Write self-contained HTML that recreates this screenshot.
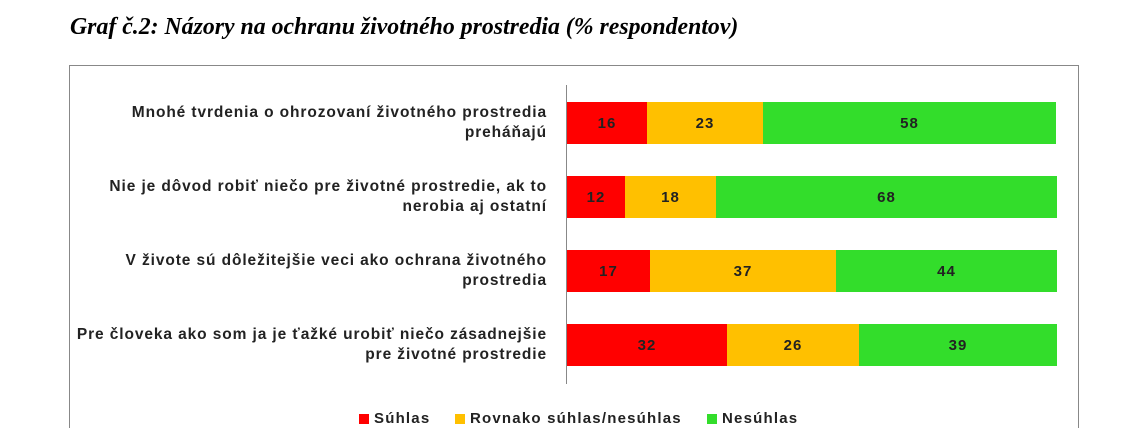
<!DOCTYPE html>
<html><head><meta charset="utf-8"><style>
html,body{margin:0;width:1128px;height:428px;background:#fff;overflow:hidden;position:relative;font-family:"Liberation Sans",sans-serif}
.t{position:absolute;left:70px;top:14px;font:italic bold 23.8px "Liberation Serif",serif;color:#000;white-space:nowrap}
.box{position:absolute;left:69px;top:65px;width:1010px;height:380px;border:1px solid #888;box-sizing:border-box}
.ax{position:absolute;left:566px;top:85px;width:1px;height:299px;background:#888}
.lab{position:absolute;left:40px;width:507px;text-align:right;font-weight:bold;font-size:15.5px;letter-spacing:0.9px;line-height:20px;color:#222;white-space:nowrap}
.bar{position:absolute;height:42px;display:flex}
.bar div{height:100%;display:flex;align-items:center;justify-content:center;font-weight:bold;font-size:15px;letter-spacing:1px;color:#222}
.r{background:#ff0000}.y{background:#ffc000}.g{background:#33dd2b}
.leg{position:absolute;top:410px;font-weight:bold;font-size:15px;letter-spacing:1.2px;color:#222;display:flex;align-items:center;white-space:nowrap}
.leg span{display:inline-block;width:10px;height:10px;margin-right:5px}
</style></head><body>
<div class="t">Graf č.2: Názory na ochranu životného prostredia (% respondentov)</div>
<div class="box"></div>
<div class="ax"></div>
<div class="lab" style="top:103px">Mnohé tvrdenia o ohrozovaní životného prostredia<br>preháňajú</div>
<div class="lab" style="top:177px">Nie je dôvod robiť niečo pre životné prostredie, ak to<br>nerobia aj ostatní</div>
<div class="lab" style="top:251px">V živote sú dôležitejšie veci ako ochrana životného<br>prostredia</div>
<div class="lab" style="top:325px">Pre človeka ako som ja je ťažké urobiť niečo zásadnejšie<br>pre životné prostredie</div>
<div class="bar" style="left:567px;top:102px"><div class="r" style="width:80px">16</div><div class="y" style="width:116px">23</div><div class="g" style="width:293px">58</div></div>
<div class="bar" style="left:567px;top:176px"><div class="r" style="width:58px">12</div><div class="y" style="width:91px">18</div><div class="g" style="width:341px">68</div></div>
<div class="bar" style="left:567px;top:250px"><div class="r" style="width:83px">17</div><div class="y" style="width:186px">37</div><div class="g" style="width:221px">44</div></div>
<div class="bar" style="left:567px;top:324px"><div class="r" style="width:160px">32</div><div class="y" style="width:132px">26</div><div class="g" style="width:198px">39</div></div>
<div class="leg" style="left:359px"><span class="r"></span>Súhlas</div>
<div class="leg" style="left:455px"><span class="y"></span>Rovnako súhlas/nesúhlas</div>
<div class="leg" style="left:707px"><span class="g"></span>Nesúhlas</div>
</body></html>
